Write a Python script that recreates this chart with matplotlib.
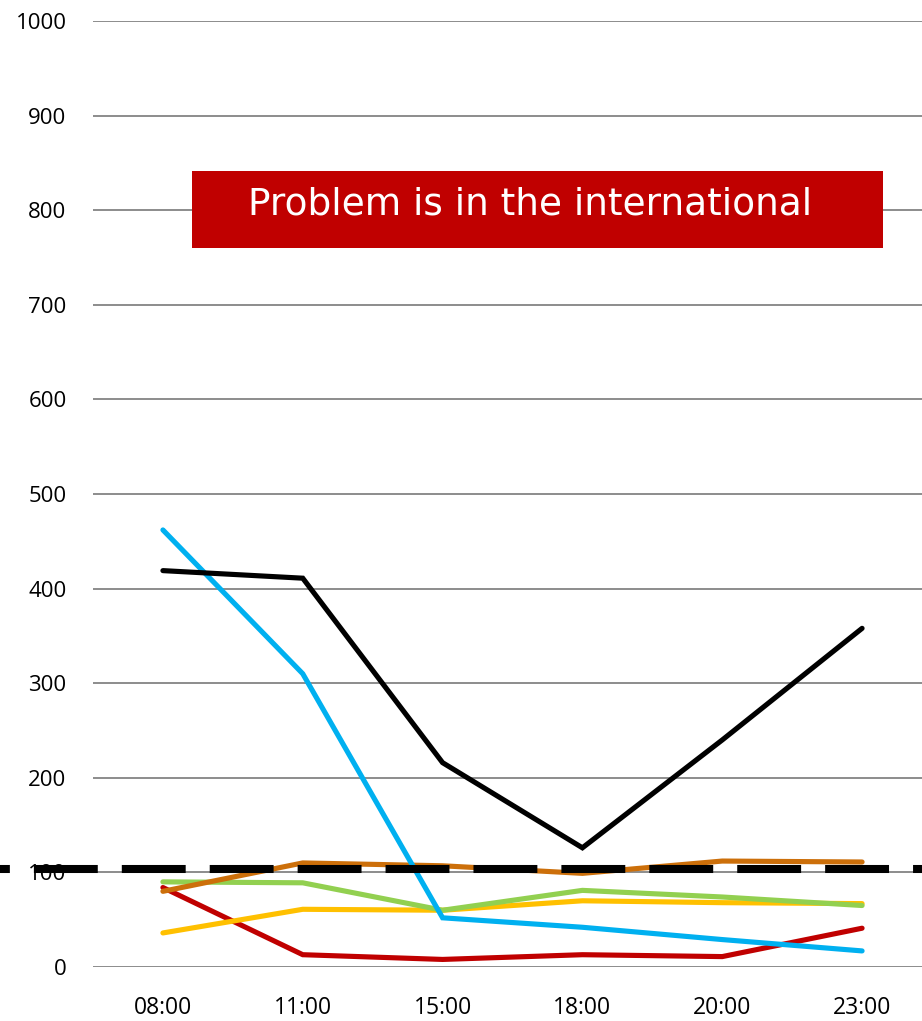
import matplotlib
matplotlib.use("Agg")
import matplotlib.pyplot as plt
from matplotlib.patches import Rectangle
from matplotlib.transforms import blended_transform_factory

plt.rcParams["lines.scale_dashes"] = False

# hourly readings per series
times = ["08:00", "11:00", "15:00", "18:00", "20:00", "23:00"]
total = [419, 411, 216, 126, 240, 358]
blue_series = [462, 310, 52, 42, 29, 17]
orange_series = [80, 110, 107, 99, 112, 111]
green_series = [90, 89, 60, 81, 74, 65]
yellow_series = [36, 61, 60, 70, 68, 67]
red_series = [84, 13, 8, 13, 11, 41]
threshold = 104

series = [
    (total, "#000000"),
    (blue_series, "#00B0F0"),
    (orange_series, "#CC6F0A"),
    (green_series, "#92D050"),
    (yellow_series, "#FFC000"),
    (red_series, "#C00000"),
]

W, H = 922, 1021
fig = plt.figure(figsize=(W / 100, H / 100), dpi=100)
ax = fig.add_axes([93 / W, 54 / H, 839 / W, 946 / H])

x = list(range(len(times)))
for vals, col in series[::-1]:
    ax.plot(x, vals, color=col, lw=3.7, solid_capstyle="round",
            solid_joinstyle="miter", zorder=3)

# target level, dashed across the whole width
tr = blended_transform_factory(fig.transFigure, ax.transData)
ax.plot([0.0, 1.0], [threshold, threshold], transform=tr, color="black",
        lw=5.8, linestyle=(38.9, (46, 17.3)), clip_on=False, zorder=6)

ax.set_xlim(-0.5, len(times) - 0.5)
ax.set_ylim(0, 1000)
ax.set_yticks(range(0, 1001, 100))
ax.set_xticks(x)
ax.set_xticklabels(times)
ax.grid(axis="y", color="#8C8C8C", lw=1.4)
ax.set_axisbelow(True)
for s in ax.spines.values():
    s.set_visible(False)
ax.tick_params(length=0, labelsize=16, labelfontfamily="Open Sans")
ax.tick_params(axis="y", pad=19)
ax.tick_params(axis="x", pad=21, labelsize=16.5)

ax.add_patch(Rectangle((0.118, 0.760), 0.8236, 0.0814, transform=ax.transAxes,
                       facecolor="#C00000", edgecolor="none", zorder=7,
                       clip_on=False))
ax.text(0.1847, 0.8055, "Problem is in the international", transform=ax.transAxes,
        color="white", fontsize=27, family="DejaVu Sans", ha="left",
        va="center", zorder=8)

fig.savefig("out.png", dpi=100)
